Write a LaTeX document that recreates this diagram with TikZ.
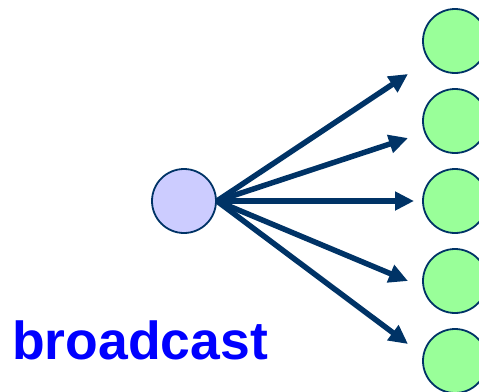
\documentclass[tikz,border=0pt]{standalone}
\usepackage{fontspec}
\setmainfont{Liberation Sans}
\usetikzlibrary{arrows.meta}
\definecolor{navy}{HTML}{003366}
\definecolor{srcfill}{HTML}{CCCCFF}
\definecolor{dstfill}{HTML}{99FF99}
\definecolor{txtblue}{HTML}{0000FF}
\begin{document}
\begin{tikzpicture}[x=1pt,y=-1pt,
  proc/.style={circle,draw=navy,line width=1.8pt,minimum size=64pt,inner sep=0pt},
  src/.style={proc,fill=srcfill},
  dst/.style={proc,fill=dstfill},
  bc/.style={draw=navy,line width=5.5pt,-{Triangle[length=19pt,width=18pt]}}]
\useasboundingbox (0,0) rectangle (479,391);
\node[src] (s) at (184,201) {};
\node[dst] (d1) at (455,41) {};
\node[dst] (d2) at (455,121) {};
\node[dst] (d3) at (455,201) {};
\node[dst] (d4) at (455,281) {};
\node[dst] (d5) at (455,361) {};
\coordinate (t1) at (408,74);
\coordinate (t2) at (408,138);
\coordinate (t3) at (414,201);
\coordinate (t4) at (408,281);
\coordinate (t5) at (408,344);
\foreach \t in {t1,t2,t3,t4,t5}
  \draw[bc] (s.east) -- (\t);
\node[anchor=base west,inner sep=0pt,text=txtblue,font=\fontsize{53.5}{60}\selectfont\bfseries] (lbl) at (12,359) {broadcast};
\end{tikzpicture}
\end{document}
